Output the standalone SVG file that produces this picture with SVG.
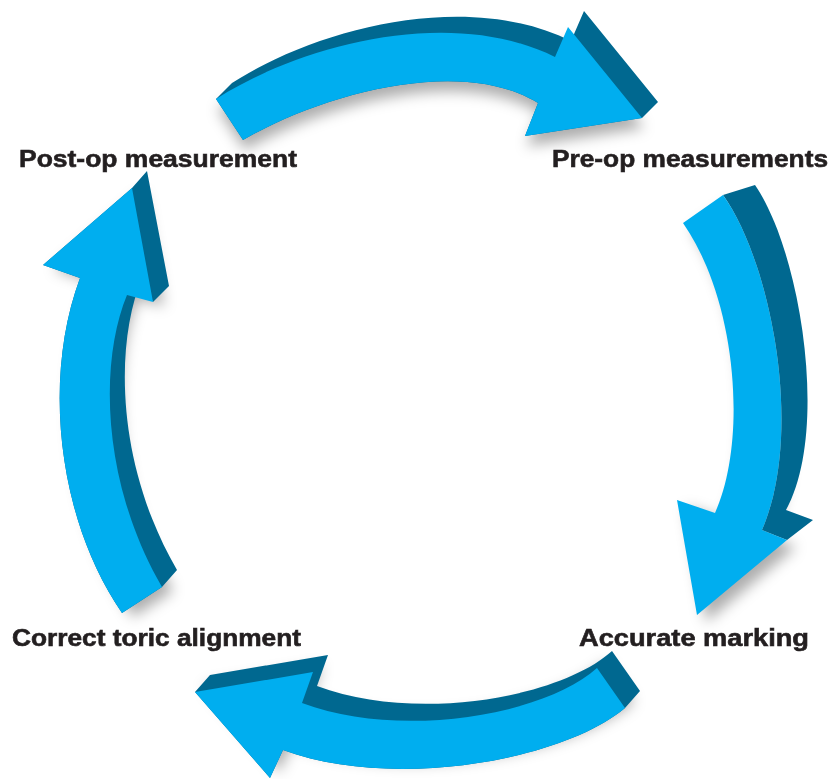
<svg xmlns="http://www.w3.org/2000/svg" xmlns:xlink="http://www.w3.org/1999/xlink" width="833" height="779" viewBox="0 0 833 779">
  <style>
    .light { fill: #00aeef; }
    .dark { fill: #006890; }
    .shadow { fill: #000; opacity: 0.32; }
    .label { font-family: "Liberation Sans", Arial, sans-serif; font-weight: bold; font-size: 24px; fill: #231f20; stroke: #231f20; stroke-width: 0.6; }
  </style>
  <defs>
    <filter id="blur" x="-30%" y="-30%" width="160%" height="160%">
      <feGaussianBlur stdDeviation="7"/>
    </filter>
    <path id="topLight" d="M243,140 L216,99 C300,45 450,5 555,57 L568,27 L642,118 L525,136 L538,103 C460,55 320,95 243,140 Z"/>
    <path id="rightLight" d="M683,223 L723,195 C770,260 805,430 762,530 L787,540 L697,615 L677,500 L715,513 C748,440 737,300 683,223 Z"/>
    <path id="bottomLight" d="M597,668 C545,715 400,740 302,703 L313,672 L195,692 L270,778 L283,750 C390,790 560,762 625,708 Z"/>
    <path id="leftLight" d="M122,613 C58,520 42,380 80,278 L43,265 L132,188 L153,302 L127,295 C100,360 100,480 162,587 Z"/>
  </defs>
  <rect width="833" height="779" fill="#ffffff"/>

  <g id="connectors">
    <g id="shadows" filter="url(#blur)">
      <use xlink:href="#topLight" href="#topLight" class="shadow" transform="translate(2,10)"/>
      <use xlink:href="#rightLight" href="#rightLight" class="shadow" transform="translate(9,7)"/>
      <use xlink:href="#bottomLight" href="#bottomLight" class="shadow" transform="translate(9,-6)"/>
      <use xlink:href="#leftLight" href="#leftLight" class="shadow" transform="translate(11,4)"/>
    </g>
    <g id="arrow-top">
      <path class="dark" d="M243,140 L216,99 L232,83 C316,29 466,-11 571,41 L584,11 L658,102 L642,118 L525,136 L538,103 C460,55 320,95 243,140 Z"/>
      <use xlink:href="#topLight" href="#topLight" class="light"/>
    </g>
    <g id="arrow-right">
      <path class="dark" d="M723,195 L755,185 C800,250 830,430 786,510 L813,520 L787,540 L762,530 C805,430 770,260 723,195 Z"/>
      <use xlink:href="#rightLight" href="#rightLight" class="light"/>
    </g>
    <g id="arrow-bottom">
      <path class="dark" d="M195,692 L210,675 L328,655 L317,686 C415,723 560,698 612,651 L640,691 L625,708 C560,762 390,790 283,750 L270,778 Z"/>
      <use xlink:href="#bottomLight" href="#bottomLight" class="light"/>
    </g>
    <g id="arrow-left">
      <path class="dark" d="M122,613 C58,520 42,380 80,278 L43,265 L132,188 L147,171 L169,286 L153,302 L142,278 C115,343 115,463 177,570 L162,587 Z"/>
      <use xlink:href="#leftLight" href="#leftLight" class="light"/>
    </g>
  </g>

  <g id="node-postop">
    <text class="label" x="19" y="167" textLength="278" lengthAdjust="spacingAndGlyphs">Post-op measurement</text>
  </g>
  <g id="node-preop">
    <text class="label" x="552" y="167" textLength="276" lengthAdjust="spacingAndGlyphs">Pre-op measurements</text>
  </g>
  <g id="node-toric">
    <text class="label" x="12" y="646" textLength="289" lengthAdjust="spacingAndGlyphs">Correct toric alignment</text>
  </g>
  <g id="node-marking">
    <text class="label" x="579" y="646" textLength="230" lengthAdjust="spacingAndGlyphs">Accurate marking</text>
  </g>
</svg>
